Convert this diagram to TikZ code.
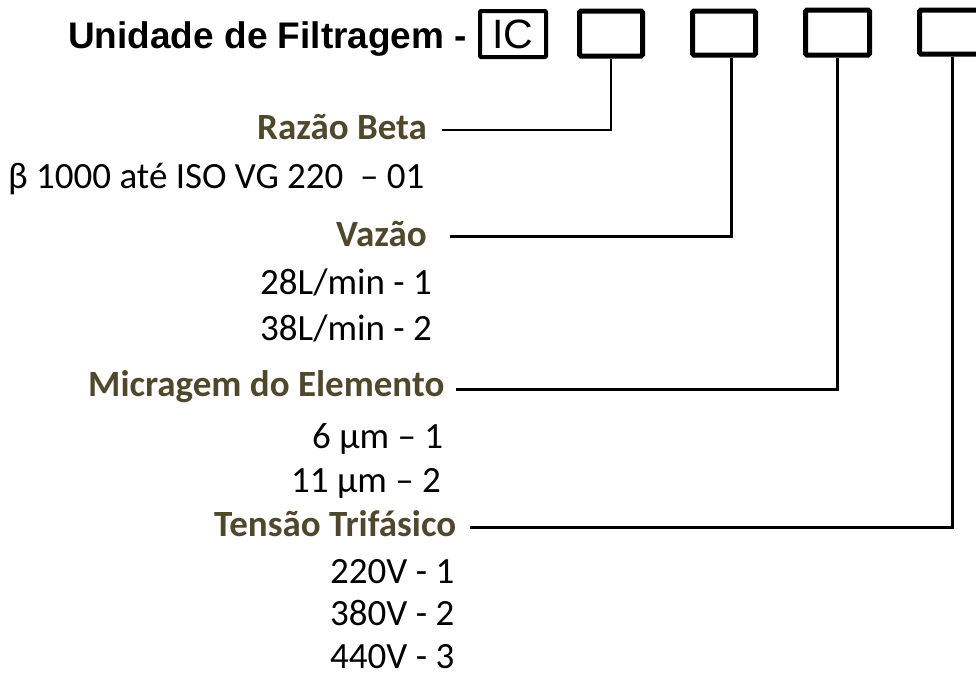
\documentclass[tikz,border=0pt]{standalone}
\usepackage{fontspec}
\setmainfont{Carlito}
\newfontfamily\arialf{Liberation Sans}
\definecolor{headcol}{RGB}{80,72,45}
\begin{document}
\begin{tikzpicture}[x=1pt,y=-1pt,
  slot/.style={draw, line width=5pt, rounded corners=1.5pt, inner sep=0pt},
  icslot/.style={draw, line width=4pt, rounded corners=1pt, inner sep=0pt, font=\arialf\fontsize{41}{44}\selectfont},
  head/.style={anchor=base west, inner sep=0pt, text=headcol, font=\bfseries\fontsize{37}{44}\selectfont},
  val/.style={anchor=base west, inner sep=0pt, font=\fontsize{37}{44}\selectfont},
  conn/.style={line width=3pt},
  titlef/.style={anchor=base west, inner sep=0pt, font=\arialf\bfseries\fontsize{37}{44}\selectfont}]
\useasboundingbox (0,0) rectangle (976,680);
% title and boxes
\node[titlef] (title) at (68,48) {Unidade de Filtragem -};
\node[icslot, minimum width=66pt, minimum height=46pt] (b1) at (513,34) {IC};
\node[slot, minimum width=63pt, minimum height=45pt] (b2) at (611,33.5) {};
\node[slot, minimum width=63pt, minimum height=44pt] (b3) at (724,33) {};
\node[slot, minimum width=64pt, minimum height=45pt] (b4) at (837.5,32.5) {};
\node[slot, minimum width=63pt, minimum height=44pt] (b5) at (951,32) {};
% headings
\node[head] (h1) at (257,139) {Razão Beta};
\node[head] (h2) at (336,246) {Vazão};
\node[head] (h3) at (88,396) {Micragem do Elemento};
\node[head] (h4) at (214,536) {Tensão Trifásico};
% values
\node[val] (v11) at (8,188) {β 1000 até ISO VG 220 \ – 01};
\node[val] (v21) at (260,294) {28L/min - 1};
\node[val] (v22) at (260,340) {38L/min - 2};
\node[val] (v31) at (312,448) {6 µm – 1};
\node[val] (v32) at (291,492) {11 µm – 2};
\node[val] (v41) at (330,583) {220V - 1};
\node[val] (v42) at (330,625) {380V - 2};
\node[val] (v43) at (330,668) {440V - 3};
% connector ends
\coordinate (c1) at (442,130);
\coordinate (c2) at (450,236);
\coordinate (c3) at (456,389);
\coordinate (c4) at (470,527);
\draw[line width=2pt] (b2.south) |- (c1);
\draw[conn] ([xshift=7pt]b3.south) |- (c2);
\draw[conn] (b4.south) |- (c3);
\draw[conn] ([xshift=1pt]b5.south) |- (c4);
\end{tikzpicture}
\end{document}
